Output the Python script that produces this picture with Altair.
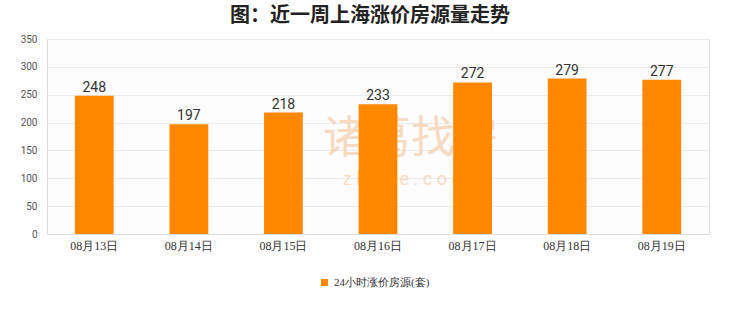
import altair as alt
import pandas as pd

dates = ["08月13日", "08月14日", "08月15日", "08月16日", "08月17日", "08月18日", "08月19日"]
values = [248, 197, 218, 233, 272, 279, 277]
series = "24小时涨价房源(套)"

df = pd.DataFrame({"date": dates, "value": values, "series": [series] * len(dates)})

base = alt.Chart(df).encode(
    x=alt.X("date:N", sort=dates, title=None,
            scale=alt.Scale(paddingInner=0.59, paddingOuter=0.295),
            axis=alt.Axis(labelAngle=0, labelFont="Liberation Serif", labelFontSize=12,
                          labelColor="#333333", ticks=False, domainColor="#dddddd",
                          labelPadding=6)),
    y=alt.Y("value:Q", title=None,
            scale=alt.Scale(domain=[0, 350], nice=False),
            axis=alt.Axis(values=[0, 50, 100, 150, 200, 250, 300, 350], labelFontSize=10,
                          labelColor="#555555", labelFont="Roboto", ticks=False,
                          gridColor="#ebebeb", domainColor="#dddddd", labelPadding=10)),
)

bars = base.mark_bar(color="#ff8800").encode(
    color=alt.Color("series:N", scale=alt.Scale(range=["#ff8800"]), title=None,
                    legend=alt.Legend(orient="none", legendX=272, legendY=238,
                                      symbolType="square", symbolSize=50,
                                      labelFont="Liberation Serif", labelFontSize=11,
                                      labelColor="#333333", symbolStrokeWidth=0))
)

labels = base.mark_text(dy=-8, fontSize=14, color="#333333", font="Roboto").encode(
    text="value:Q"
)

watermark = alt.Chart(pd.DataFrame({"t": ["诸葛找房"]})).mark_text(
    fontSize=44, color="#f6d3b3", opacity=0.8, font="Noto Sans CJK SC", fontWeight="normal"
).encode(x=alt.value(364), y=alt.value(101), text="t:N")
watermark2 = alt.Chart(pd.DataFrame({"t": ["z h u g e . c o m"]})).mark_text(
    fontSize=18, color="#f6d3b3", opacity=0.8, font="Roboto"
).encode(x=alt.value(358), y=alt.value(141), text="t:N")

chart = alt.layer(watermark, watermark2, bars, labels).properties(
    width=662, height=195,
    autosize=alt.AutoSizeParams(type="none"),
    padding={"left": 47, "top": 39, "right": 31, "bottom": 78},
    title=alt.TitleParams("图：近一周上海涨价房源量走势", fontSize=20, fontWeight="bold",
                          font="Noto Sans CJK SC", color="#222222", anchor="middle",
                          dx=-8, offset=8),
    background="white",
).configure_view(stroke="#dddddd", fill="#fdfdfd")

chart.save("out.html", embed_options={"renderer": "svg", "actions": False})
